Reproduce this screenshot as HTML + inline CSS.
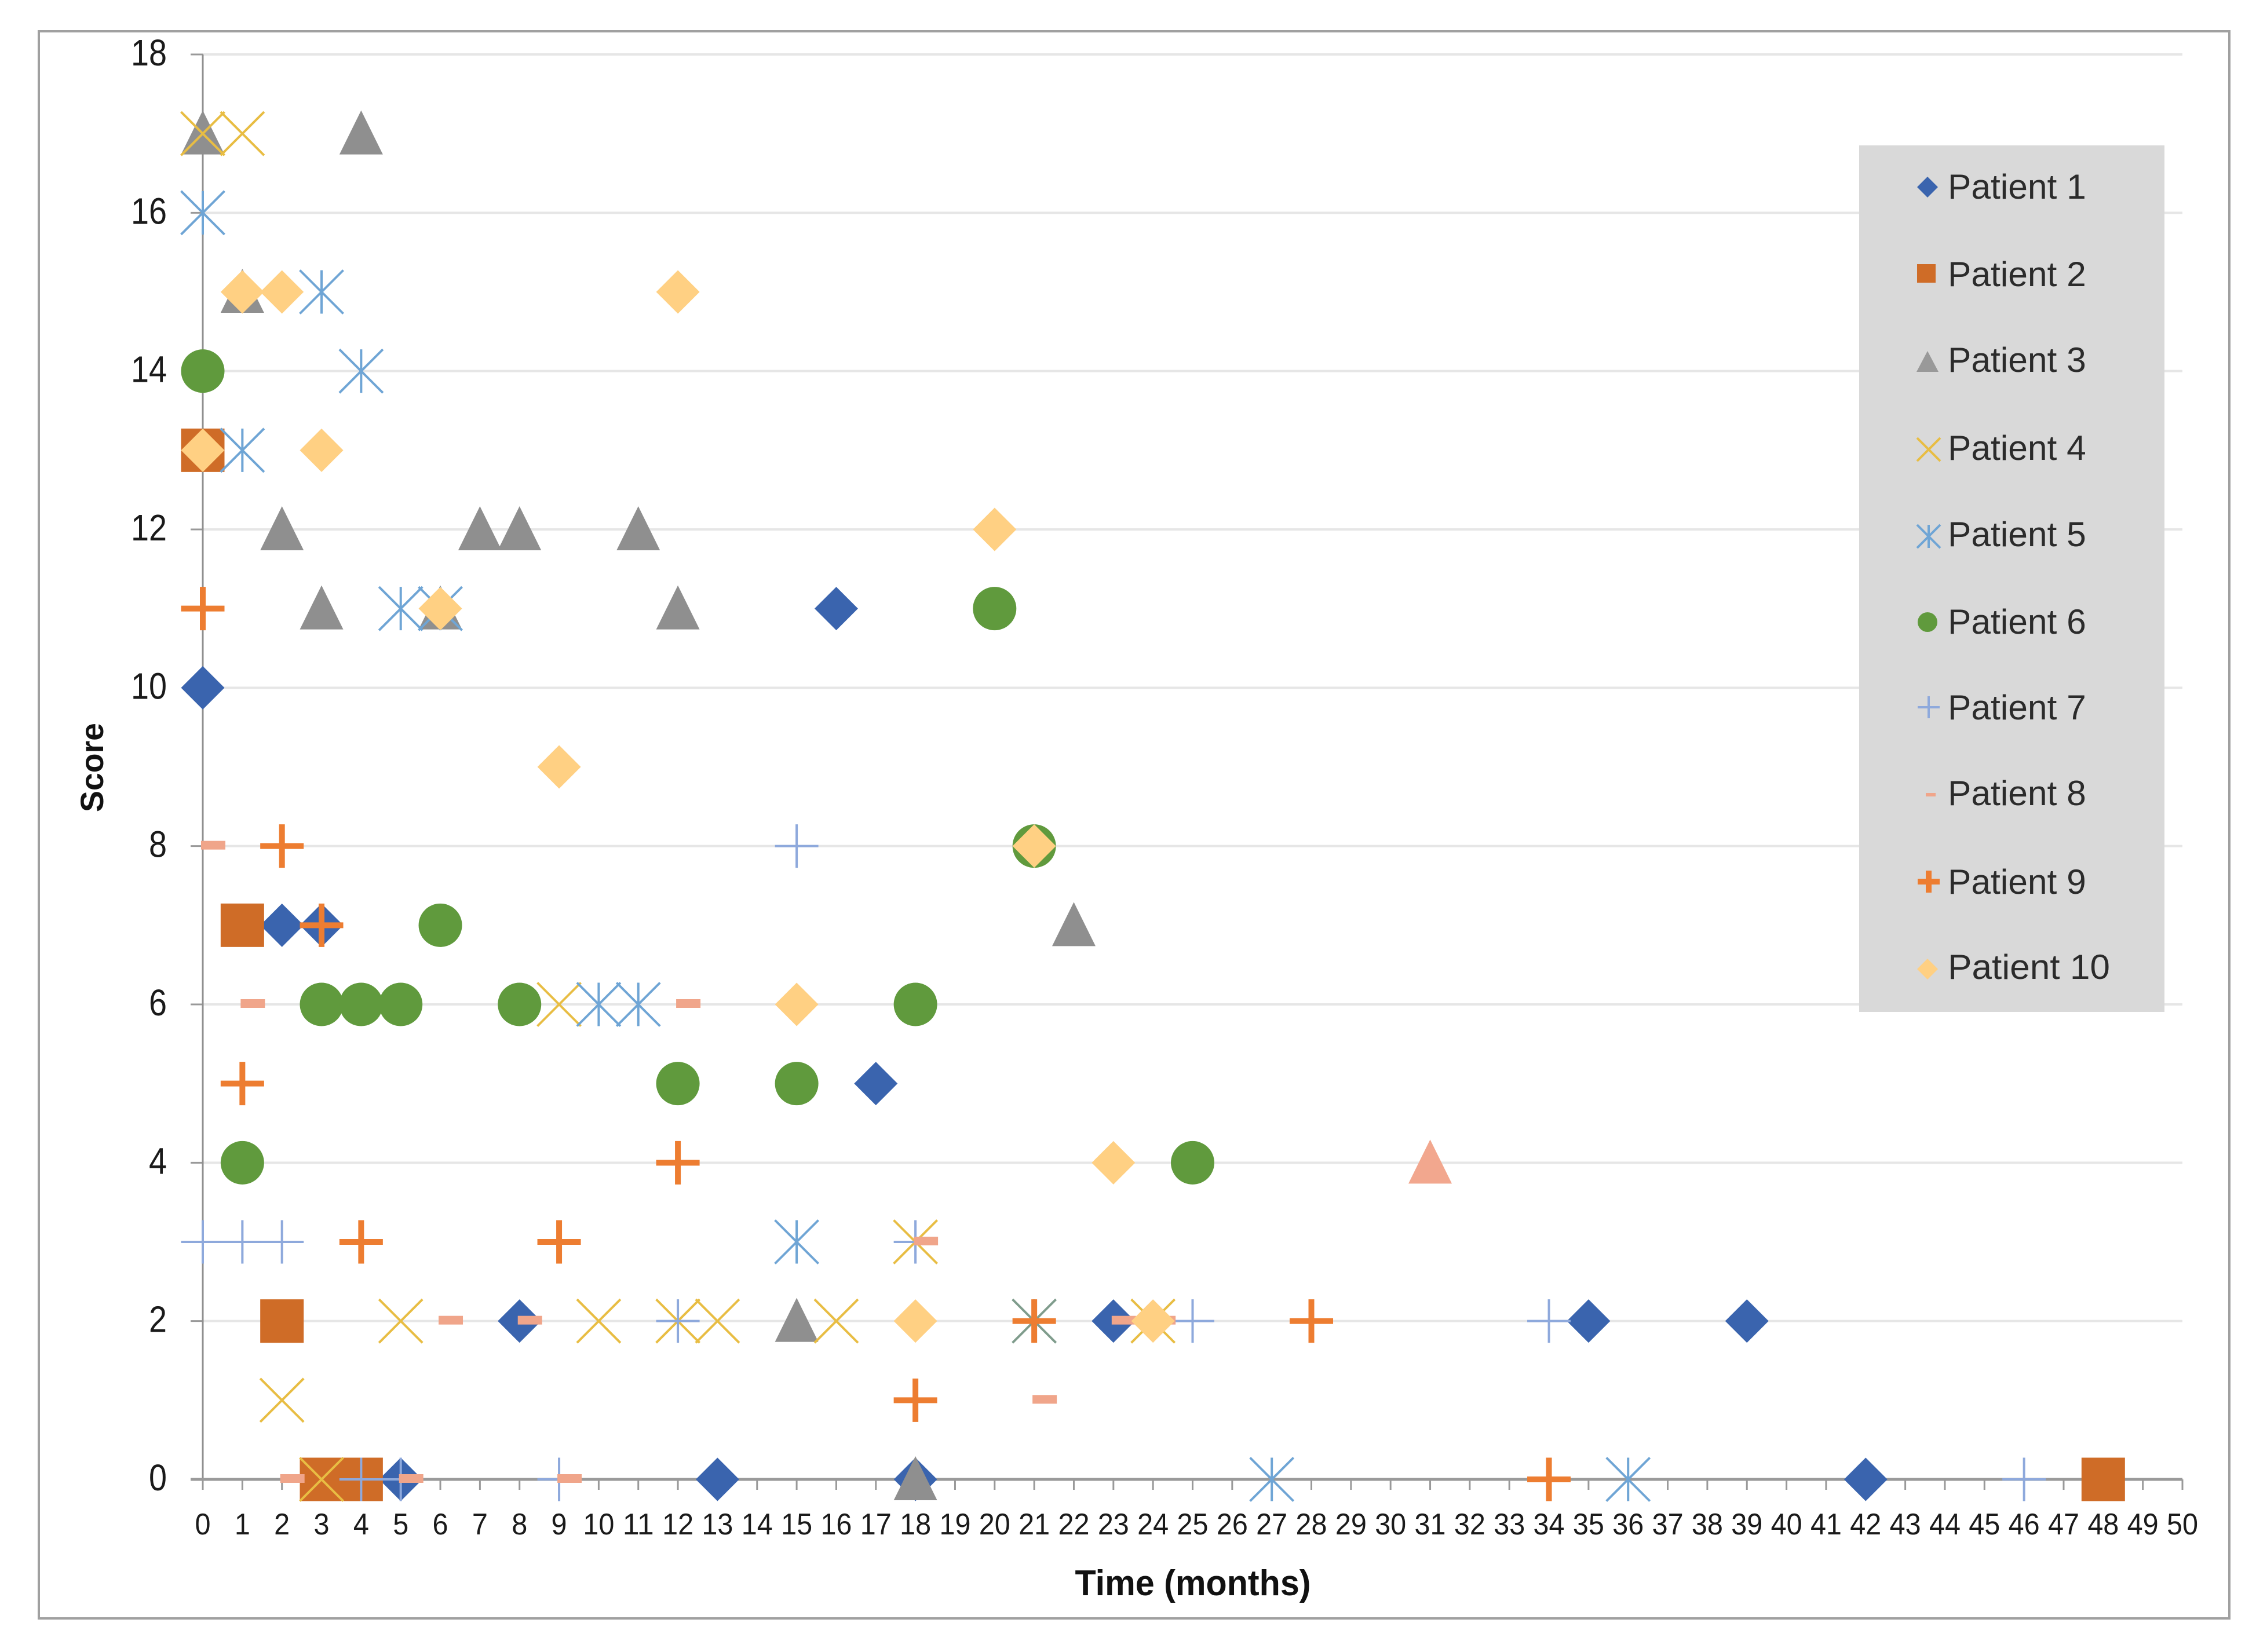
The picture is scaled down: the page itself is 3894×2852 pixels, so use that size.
<!DOCTYPE html>
<html lang="en">
<head>
<meta charset="utf-8">
<title>Score over time by patient</title>
<style>
html,body{margin:0;padding:0;background:#fff;width:3894px;height:2852px;overflow:hidden}
svg{display:block;font-family:"Liberation Sans",Arial,sans-serif}
</style>
</head>
<body>
<svg id="chart" xmlns="http://www.w3.org/2000/svg" width="3894" height="2852" viewBox="0 0 3894 2852">
  <rect x="0" y="0" width="3894" height="2852" fill="#ffffff"/>
  <rect x="67" y="54" width="3781" height="2740" fill="#ffffff" stroke="#a0a0a0" stroke-width="4"/>
  <g id="grid"></g>
  <g id="axes"></g>
  <g id="marks"></g>
  <text x="2059" y="2754" text-anchor="middle" font-size="62" font-weight="700" fill="#111" textLength="407" lengthAdjust="spacingAndGlyphs">Time (months)</text>
  <text transform="translate(178,1325) rotate(-90)" text-anchor="middle" font-size="56" font-weight="700" fill="#111" textLength="154" lengthAdjust="spacingAndGlyphs">Score</text>
  <g font-size="60.5" fill="#2b2b2b">
    <rect x="3209" y="251" width="527" height="1496" fill="#d9d9d9"/>
    <g>
      <polygon points="3327,305 3345,323 3327,341 3309,323" fill="#3a64ae"/>
      <text x="3362" y="343">Patient 1</text>
    </g>
    <g>
      <rect x="3309" y="456" width="32" height="32" fill="#cf6c27"/>
      <text x="3362" y="494">Patient 2</text>
    </g>
    <g>
      <polygon points="3327,606 3346,642 3308,642" fill="#999999"/>
      <text x="3362" y="642">Patient 3</text>
    </g>
    <g>
      <path d="M3309 756L3349 796M3309 796L3349 756" stroke="#e8bd43" stroke-width="4" fill="none"/>
      <text x="3362" y="794">Patient 4</text>
    </g>
    <g>
      <path d="M3309 906L3349 946M3309 946L3349 906M3329 906V946" stroke="#6fa5d5" stroke-width="4" fill="none"/>
      <text x="3362" y="943">Patient 5</text>
    </g>
    <g>
      <circle cx="3327" cy="1074" r="17" fill="#609a3d"/>
      <text x="3362" y="1094">Patient 6</text>
    </g>
    <g>
      <path d="M3310 1221H3348M3329 1202V1240" stroke="#8ea9dc" stroke-width="4" fill="none"/>
      <text x="3362" y="1242">Patient 7</text>
    </g>
    <g>
      <rect x="3324" y="1369" width="17" height="6" fill="#f0a58a"/>
      <text x="3362" y="1390">Patient 8</text>
    </g>
    <g>
      <path d="M3310 1522H3348M3329 1503V1541" stroke="#ed7d31" stroke-width="10" fill="none"/>
      <text x="3362" y="1543">Patient 9</text>
    </g>
    <g>
      <polygon points="3327,1655 3345,1673 3327,1691 3309,1673" fill="#ffd083"/>
      <text x="3362" y="1690" textLength="280" lengthAdjust="spacingAndGlyphs">Patient 10</text>
    </g>
  </g>
</svg>
<script>
const xTickLabels = [0,1,2,3,4,5,6,7,8,9,10,11,12,13,14,15,16,17,18,19,20,21,22,23,24,25,26,27,28,29,30,31,32,33,34,35,36,37,38,39,40,41,42,43,44,45,46,47,48,49,50];
const yTickLabels = [0,2,4,6,8,10,12,14,16,18];

const patient1Times  = [0,2,3,5,8,13,16,17,18,23,35,39,42];
const patient1Scores = [10,7,7,0,2,0,11,5,0,2,2,2,0];
const patient2Times  = [0,1,2,3,4,48];
const patient2Scores = [13,7,2,0,0,0];
const patient3Times  = [0,4,1,2,7,8,11,3,6,12,22,15,18];
const patient3Scores = [17,17,15,12,12,12,12,11,11,11,7,2,0];
const patient3bTimes  = [31];
const patient3bScores = [4];
const patient4Times  = [0,1,9,18,5,10,12,13,16,24,2,3];
const patient4Scores = [17,17,6,3,2,2,2,2,2,2,1,0];
const patient5Times  = [0,3,4,1,5,6,10,11,15,27,36];
const patient5Scores = [16,15,14,13,11,11,6,6,3,0,0];
const patient5bTimes  = [21];
const patient5bScores = [2];
const patient6Times  = [0,20,21,6,3,4,5,8,18,12,15,1,25];
const patient6Scores = [14,11,8,7,6,6,6,6,6,5,5,4,4];
const patient7Times  = [15,0,1,2,18,12,25,34,4,5,9,46];
const patient7Scores = [8,3,3,3,3,2,2,2,0,0,0,0];
const patient8Times  = [0,1,12,18,6,8,23,24,21,2,5,9];
const patient8Scores = [8,6,6,3,2,2,2,2,1,0,0,0];
const patient9Times  = [0,2,3,1,12,4,9,21,28,18,34];
const patient9Scores = [11,8,7,5,4,3,3,2,2,1,0];
const patient10Times  = [1,2,12,0,3,20,6,9,21,15,23,18,24];
const patient10Scores = [15,15,15,13,13,12,11,9,8,6,4,2,2];

const SVG_NS = 'http://www.w3.org/2000/svg';
const xMin = 0, xMax = 50, yMin = 0, yMax = 18;
const plotLeft = 350, plotRight = 3767, plotBottom = 2554, plotTop = 94;
const R = 37.5;

function xScale(v) { return plotLeft + (v - xMin) / (xMax - xMin) * (plotRight - plotLeft); }
function yScale(v) { return plotBottom - (v - yMin) / (yMax - yMin) * (plotBottom - plotTop); }

function make(tag, parent) {
  const n = document.createElementNS(SVG_NS, tag);
  parent.appendChild(n);
  return n;
}
function setAll(n, props) {
  for (const k in props) n.setAttribute(k, props[k]);
  return n;
}

const gridLayer = document.getElementById('grid');
const axesLayer = document.getElementById('axes');
const marksLayer = document.getElementById('marks');

yTickLabels.forEach(function (v) {
  const y = yScale(v);
  if (v !== 0) {
    const line = setAll(make('line', gridLayer), {x1: plotLeft, x2: plotRight, y1: y, y2: y, stroke: '#e6e6e6', 'stroke-width': 4});
    
    
  }
  const tick = setAll(make('line', axesLayer), {x1: plotLeft - 21, x2: plotLeft, y1: y, y2: y, stroke: '#999999', 'stroke-width': 3});
  
  
  const label = setAll(make('text', axesLayer), {x: 288, y: y + 19, 'text-anchor': 'end', 'font-size': 64, fill: '#1a1a1a', textLength: 31 * String(v).length, lengthAdjust: 'spacingAndGlyphs'});
  label.textContent = v;
  
  
});

xTickLabels.forEach(function (v) {
  const x = xScale(v);
  const tick = setAll(make('line', axesLayer), {x1: x, x2: x, y1: plotBottom, y2: plotBottom + 18, stroke: '#999999', 'stroke-width': 3});
  
  
  const label = setAll(make('text', axesLayer), {x: x, y: 2649, 'text-anchor': 'middle', 'font-size': 52, fill: '#1a1a1a', textLength: 27 * String(v).length, lengthAdjust: 'spacingAndGlyphs'});
  label.textContent = v;
  
  
});

const yAxis = setAll(make('line', axesLayer), {x1: plotLeft, x2: plotLeft, y1: plotTop, y2: plotBottom, stroke: '#8f8f8f', 'stroke-width': 3});


const xAxis = setAll(make('line', axesLayer), {x1: plotLeft - 21, x2: plotRight, y1: plotBottom, y2: plotBottom, stroke: '#9a9a9a', 'stroke-width': 5});



function diamond(g, x, y, c) {
  setAll(make('polygon', g), {points: [x, y - R, x + R, y, x, y + R, x - R, y].join(','), fill: c});
}
function square(g, x, y, c) {
  setAll(make('rect', g), {x: x - R, y: y - R, width: 2 * R, height: 2 * R, fill: c});
}
function triangle(g, x, y, c) {
  setAll(make('polygon', g), {points: [x, y - 40, x + R, y + 36, x - R, y + 36].join(','), fill: c});
}
function cross(g, x, y, c) {
  setAll(make('path', g), {d: 'M' + (x - R) + ' ' + (y - R) + 'L' + (x + R) + ' ' + (y + R) + 'M' + (x - R) + ' ' + (y + R) + 'L' + (x + R) + ' ' + (y - R), stroke: c, 'stroke-width': 4, fill: 'none'});
}
function star(g, x, y, c) {
  cross(g, x, y, c);
  setAll(make('path', g), {d: 'M' + x + ' ' + (y - R) + 'V' + (y + R), stroke: c, 'stroke-width': 4, fill: 'none'});
}
function circle(g, x, y, c) {
  setAll(make('circle', g), {cx: x, cy: y, r: R, fill: c});
}
function thinPlus(g, x, y, c) {
  setAll(make('path', g), {d: 'M' + (x - R) + ' ' + y + 'H' + (x + R) + 'M' + x + ' ' + (y - R) + 'V' + (y + R), stroke: c, 'stroke-width': 4, fill: 'none'});
}
function dash(g, x, y, c) {
  setAll(make('rect', g), {x: x - 3, y: y - 9, width: 42, height: 15, fill: c});
}
function thickPlus(g, x, y, c) {
  setAll(make('path', g), {d: 'M' + (x - R) + ' ' + y + 'H' + (x + R) + 'M' + x + ' ' + (y - R) + 'V' + (y + R), stroke: c, 'stroke-width': 10, fill: 'none'});
}

function drawSeries(id, times, scores, shape, color) {
  times.forEach(function (t, i) {
    const g = make('g', marksLayer);
    
    
    shape(g, xScale(t), yScale(scores[i]), color);
  });
}

drawSeries('patient-1', patient1Times, patient1Scores, diamond, '#3a64ae');
drawSeries('patient-2', patient2Times, patient2Scores, square, '#cf6c27');
drawSeries('patient-3', patient3Times, patient3Scores, triangle, '#8f8f8f');
drawSeries('patient-3-highlight', patient3bTimes, patient3bScores, triangle, '#f2a78e');
drawSeries('patient-4', patient4Times, patient4Scores, cross, '#e8bd43');
drawSeries('patient-5', patient5Times, patient5Scores, star, '#6fa5d5');
drawSeries('patient-5-overlap', patient5bTimes, patient5bScores, star, '#7f9c8c');
drawSeries('patient-6', patient6Times, patient6Scores, circle, '#609a3d');
drawSeries('patient-7', patient7Times, patient7Scores, thinPlus, '#8ea9dc');
drawSeries('patient-8', patient8Times, patient8Scores, dash, '#f0a58a');
drawSeries('patient-9', patient9Times, patient9Scores, thickPlus, '#ed7d31');
drawSeries('patient-10', patient10Times, patient10Scores, diamond, '#ffd083');
</script>
</body>
</html>
